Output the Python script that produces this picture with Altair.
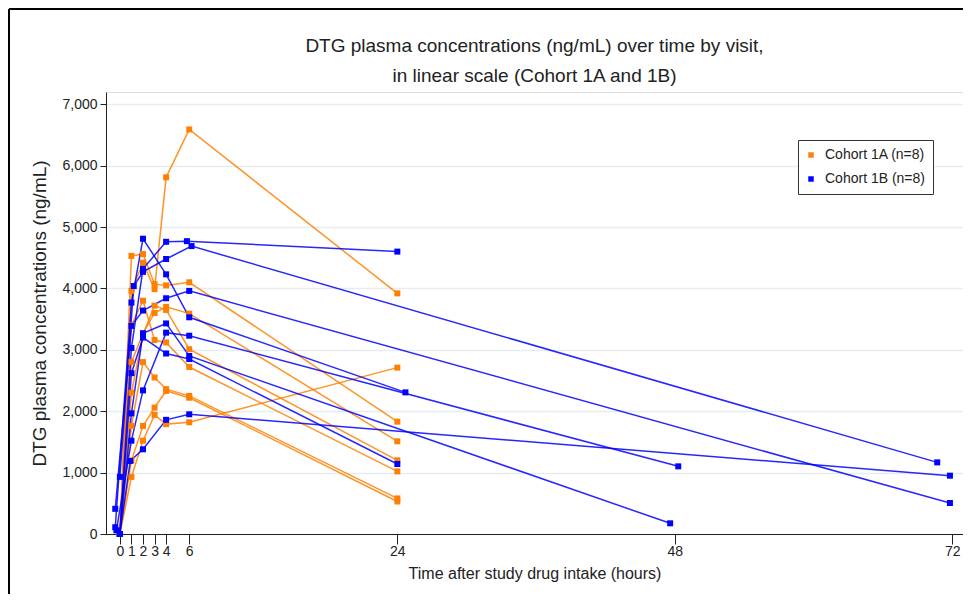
import altair as alt
import pandas as pd

# ---------------- data ----------------
cohort_names = ["Cohort 1A (n=8)", "Cohort 1B (n=8)"]
cohort_colors = ["#FF8000", "#0000FF"]

x_ticks = [0, 1, 2, 3, 4, 6, 24, 48, 72]
y_ticks = [0, 1000, 2000, 3000, 4000, 5000, 6000, 7000]

# Cohort 1A: common sampling times (h)
times_1a = [0, 1, 2, 3, 4, 6, 24]
conc_1a_s1 = [0, 3960, 4420, 3990, 5810, 6590, 3920]
conc_1a_s2 = [0, 4530, 4560, 4070, 4050, 4100, 1830]
conc_1a_s3 = [0, 2800, 3270, 3600, 3700, 3590, 1510]
conc_1a_s4 = [0, 2300, 3250, 3720, 3650, 3010, 1200]
conc_1a_s5 = [0, 3400, 3800, 3160, 3120, 2720, 1020]
conc_1a_s6 = [0, 1760, 2800, 2550, 2360, 2250, 580]
conc_1a_s7 = [0, 1200, 1760, 2060, 2330, 2220, 530]
conc_1a_s8 = [0, 930, 1520, 1940, 1790, 1820, 2710]

# Cohort 1B: individual sampling times (h)
times_1b_s1 = [0, 1.0, 2, 4, 5.8, 24.0]
conc_1b_s1 = [0, 3030, 4320, 4760, 4770, 4600]
times_1b_s2 = [0, 1.2, 2, 4, 6.2, 70.7]
conc_1b_s2 = [930, 4040, 4270, 4480, 4690, 1167]
times_1b_s3 = [-0.4, 1.0, 2, 4, 6.0, 71.8]
conc_1b_s3 = [410, 3390, 3640, 3840, 3960, 505]
times_1b_s4 = [-0.4, 1.0, 2, 4, 6.0, 24.7]
conc_1b_s4 = [110, 3770, 4810, 4230, 3530, 2307]
times_1b_s5 = [-0.3, 1.0, 2, 4, 6.0, 48.3]
conc_1b_s5 = [60, 1520, 2340, 3280, 3230, 1102]
times_1b_s6 = [0, 1.0, 2, 4, 6.0, 47.6]
conc_1b_s6 = [0, 1965, 3270, 3430, 2900, 174]
times_1b_s7 = [0, 1.0, 2, 4, 6.0, 24.0]
conc_1b_s7 = [0, 2620, 3200, 2940, 2850, 1140]
times_1b_s8 = [0, 0.9, 2, 4, 6.0, 71.8]
conc_1b_s8 = [0, 1190, 1380, 1860, 1950, 950]

subjects = [
    ("1A-1", cohort_names[0], times_1a, conc_1a_s1),
    ("1A-2", cohort_names[0], times_1a, conc_1a_s2),
    ("1A-3", cohort_names[0], times_1a, conc_1a_s3),
    ("1A-4", cohort_names[0], times_1a, conc_1a_s4),
    ("1A-5", cohort_names[0], times_1a, conc_1a_s5),
    ("1A-6", cohort_names[0], times_1a, conc_1a_s6),
    ("1A-7", cohort_names[0], times_1a, conc_1a_s7),
    ("1A-8", cohort_names[0], times_1a, conc_1a_s8),
    ("1B-1", cohort_names[1], times_1b_s1, conc_1b_s1),
    ("1B-2", cohort_names[1], times_1b_s2, conc_1b_s2),
    ("1B-3", cohort_names[1], times_1b_s3, conc_1b_s3),
    ("1B-4", cohort_names[1], times_1b_s4, conc_1b_s4),
    ("1B-5", cohort_names[1], times_1b_s5, conc_1b_s5),
    ("1B-6", cohort_names[1], times_1b_s6, conc_1b_s6),
    ("1B-7", cohort_names[1], times_1b_s7, conc_1b_s7),
    ("1B-8", cohort_names[1], times_1b_s8, conc_1b_s8),
]

rows = []
for sid, coh, ts, cs in subjects:
    for i, (t, c) in enumerate(zip(ts, cs)):
        rows.append({"subject": sid, "cohort": coh, "time": t, "conc": c, "idx": i})
df = pd.DataFrame(rows)

# ---------------- chart ----------------
FONT = "Liberation Sans"
W, H = 857, 442

x_enc = alt.X(
    "time:Q",
    scale=alt.Scale(domain=[-1.2, 72.93], nice=False, zero=False),
    axis=alt.Axis(
        values=x_ticks, title="Time after study drug intake (hours)",
        grid=False, tickSize=10, labelFontSize=14, titleFontSize=16,
        labelFont=FONT, titleFont=FONT, labelColor="#222", titleColor="#222",
        titleFontWeight="normal", domainColor="#222", tickColor="#222",
        labelPadding=0, titlePadding=7, labelFlush=False,
    ),
)
y_enc = alt.Y(
    "conc:Q",
    scale=alt.Scale(domain=[0, 7200], nice=False),
    axis=alt.Axis(
        values=y_ticks, format=",.0f", title="DTG plasma concentrations (ng/mL)",
        grid=True, gridColor="#e6edf1", gridWidth=1.5, tickSize=6,
        labelFontSize=14, titleFontSize=19, labelFont=FONT, titleFont=FONT,
        labelColor="#222", titleColor="#222", titleFontWeight="normal",
        domainColor="#222", tickColor="#222", labelPadding=3, titlePadding=12,
    ),
)

line_layers = []
for name, col in zip(cohort_names, cohort_colors):
    line_layers.append(
        alt.Chart(df).transform_filter(alt.datum.cohort == name)
        .mark_line(strokeWidth=1.5, opacity=0.85, color=col)
        .encode(x=x_enc, y=y_enc, detail="subject:N", order="idx:Q")
    )

points = alt.Chart(df).mark_square(size=36, opacity=1).encode(
    x=x_enc, y=y_enc,
    color=alt.Color(
        "cohort:N", scale=alt.Scale(domain=cohort_names, range=cohort_colors),
        title="",
        legend=alt.Legend(orient="none", legendX=692, legendY=48),
    ),
    detail="subject:N",
)

frame_df = pd.DataFrame({"k": [0]})
frame_left = alt.Chart(frame_df).mark_rule(color="black", strokeWidth=2).encode(
    x=alt.value(-97), y=alt.value(-83), y2=alt.value(H + 60)
)
frame_top = alt.Chart(frame_df).mark_rule(color="black", strokeWidth=2).encode(
    x=alt.value(-97), x2=alt.value(W), y=alt.value(-83)
)

chart = alt.layer(*line_layers, points, frame_left, frame_top).properties(
    width=W, height=H,
    padding={"left": 98, "top": 84, "right": 0, "bottom": 60},
    autosize=alt.AutoSizeParams(type="none"),
    title=alt.TitleParams(
        text=["DTG plasma concentrations (ng/mL) over time by visit,",
              "in linear scale (Cohort 1A and 1B)"],
        fontSize=19, font=FONT, fontWeight="normal", color="#222",
        anchor="middle", lineHeight=30, offset=0, dy=78,
    ),
).configure_view(stroke=None).configure(background="white").configure_legend(
    symbolType="square", symbolSize=30, labelFontSize=14, labelFont=FONT,
    labelColor="#222", fillColor="white", strokeColor="#333",
    padding=8, rowPadding=10, symbolOffset=-2, labelOffset=7,
)

chart.save("out.html", embed_options={"renderer": "svg", "actions": False})
